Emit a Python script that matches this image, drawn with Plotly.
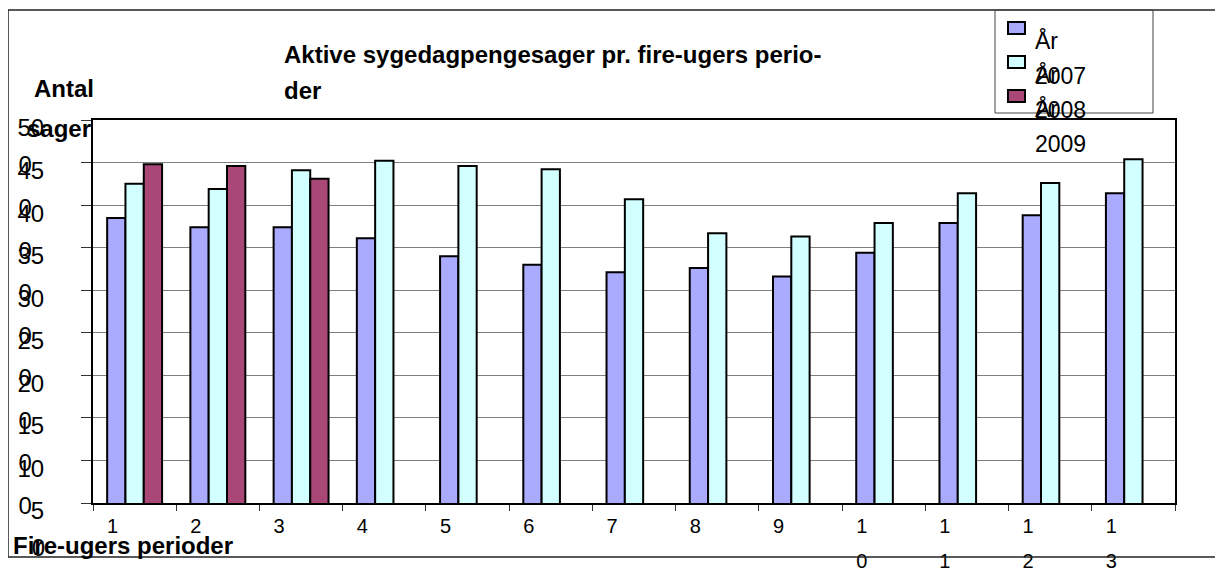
import plotly.graph_objects as go

periods = [str(i) for i in range(1, 14)]
series_names = ["År 2007", "År 2008", "År 2009"]
vals_2007 = [38.5, 37.4, 37.4, 36.1, 34.0, 33.0, 32.1, 32.6, 31.6, 34.4, 37.9, 38.8, 41.4]
vals_2008 = [42.5, 41.9, 44.1, 45.2, 44.6, 44.2, 40.7, 36.7, 36.3, 37.9, 41.4, 42.6, 45.4]
vals_2009 = [44.8, 44.6, 43.1, None, None, None, None, None, None, None, None, None, None]
colors = ["#AAAAFF", "#D2FFFF", "#A94777"]
y_ticks = [5, 10, 15, 20, 25, 30, 35, 40, 45, 50]
y_tick_text = ["5", "10", "15", "20", "25", "30", "35", "40", "45", "50"]
y_tick_second = ["0", "0\u00a0\u00a0", "0\u00a0\u00a0", "0\u00a0\u00a0", "0\u00a0\u00a0",
                 "0\u00a0\u00a0", "0\u00a0\u00a0", "0\u00a0\u00a0", "0\u00a0\u00a0", "0\u00a0\u00a0"]
x_tick_first = ["1", "2", "3", "4", "5", "6", "7", "8", "9", "1", "1", "1", "1"]
x_tick_second = ["", "", "", "", "", "", "", "", "", "0", "1", "2", "3"]

# page body has an 8px margin: figure is drawn offset by 8px
OFF = 8
W, H = 1223 - OFF, 569 - OFF
# target plot-area box in screen pixels
SL, SR, ST, SB = 93, 1175, 120, 503
L, R, T, B = SL - OFF, SR - OFF, ST - OFF, SB - OFF

def px(x):
    return (x - SL) / (SR - SL)

def py(y):
    return (SB - y) / (SB - ST)

FONT = "Liberation Sans, Arial, sans-serif"

fig = go.Figure()
for name, vals, col in zip(series_names, [vals_2007, vals_2008, vals_2009], colors):
    fig.add_trace(go.Bar(x=periods, y=vals, name=name, showlegend=False,
                         marker=dict(color=col, line=dict(color="black", width=2))))

fig.update_layout(
    width=W, height=H,
    margin=dict(l=L, r=W - R, t=T, b=H - B, autoexpand=False),
    paper_bgcolor="white", plot_bgcolor="white",
    barmode="group", bargap=0.34, bargroupgap=0,
    font=dict(family=FONT, color="black"),
    xaxis=dict(type="category", categoryorder="array", categoryarray=periods,
               tickmode="array", tickvals=periods, ticktext=x_tick_first,
               tickson="boundaries", ticks="outside", ticklen=6, tickcolor="#333",
               showline=True, linecolor="black", linewidth=2, mirror=True,
               showgrid=False, tickfont=dict(size=20), ticklabelshift=-22,
               ticklabelstandoff=4, automargin=False),
    xaxis2=dict(overlaying="x", anchor="y", side="bottom", range=[-0.5, 12.5],
                tickmode="array", tickvals=list(range(13)), ticktext=x_tick_second,
                ticks="", showgrid=False, showline=False, zeroline=False,
                tickfont=dict(size=20), ticklabelshift=-22, ticklabelstandoff=44,
                automargin=False),
    yaxis=dict(range=[5, 50], tickmode="array", tickvals=y_ticks, ticktext=y_tick_text,
               ticks="outside", ticklen=10, tickcolor="#333",
               showline=True, linecolor="black", linewidth=2, mirror=True,
               showgrid=True, gridcolor="#808080", gridwidth=1, zeroline=False,
               tickfont=dict(size=24), ticklabelshift=8, ticklabelstandoff=32,
               automargin=False),
    yaxis2=dict(overlaying="y", anchor="x", side="left", range=[5, 50],
                tickmode="array", tickvals=y_ticks, ticktext=y_tick_second,
                ticks="outside", ticklen=10, tickcolor="rgba(0,0,0,0)",
                showgrid=False, showline=False, zeroline=False,
                tickfont=dict(size=24), ticklabelshift=45, ticklabelstandoff=32,
                automargin=False),
)

# invisible trace to activate the secondary axes
fig.add_trace(go.Scatter(x=[0], y=[None], xaxis="x2", yaxis="y2", showlegend=False,
                         hoverinfo="skip", mode="markers"))

ann = []
def text(x, y, s, size=24, bold=False, anchor="left"):
    ann.append(dict(x=px(x - 3), y=py(y), xref="paper", yref="paper",
                    text=(f"<b>{s}</b>" if bold else s),
                    showarrow=False, xanchor=anchor, yanchor="middle",
                    font=dict(size=size, family=FONT, color="black")))

text(285, 55, "Aktive sygedagpengesager pr. fire-ugers perio-", bold=True)
text(285, 90, "der", bold=True)
text(35, 88, "Antal", bold=True)
text(28, 128, "sager", bold=True)
text(14, 545, "Fire-ugers perioder", bold=True)

shapes = []
# outer frame
shapes.append(dict(type="line", xref="paper", yref="paper", x0=px(8), x1=px(1223), y0=py(10), y1=py(10),
                   line=dict(color="#222", width=1.5)))
shapes.append(dict(type="line", xref="paper", yref="paper", x0=px(8), x1=px(8), y0=py(10), y1=py(557),
                   line=dict(color="#222", width=1.5)))
shapes.append(dict(type="line", xref="paper", yref="paper", x0=px(8), x1=px(1223), y0=py(557), y1=py(557),
                   line=dict(color="#222", width=1.5)))
# legend box
shapes.append(dict(type="rect", xref="paper", yref="paper", x0=px(995), x1=px(1153), y0=py(10), y1=py(113),
                   line=dict(color="#444", width=1), fillcolor="rgba(0,0,0,0)"))
for i, (name, col) in enumerate(zip(series_names, colors)):
    top = 22 + i * 34
    shapes.append(dict(type="rect", xref="paper", yref="paper", x0=px(1008), x1=px(1025),
                       y0=py(top), y1=py(top + 12), fillcolor=col, line=dict(color="black", width=2)))
    first, second = name.split(" ")
    text(1036, 40 + i * 34, first, size=23)
    text(1036, 76 + i * 34, second, size=23)

fig.update_layout(annotations=ann, shapes=shapes)
fig.write_html("out.html")
